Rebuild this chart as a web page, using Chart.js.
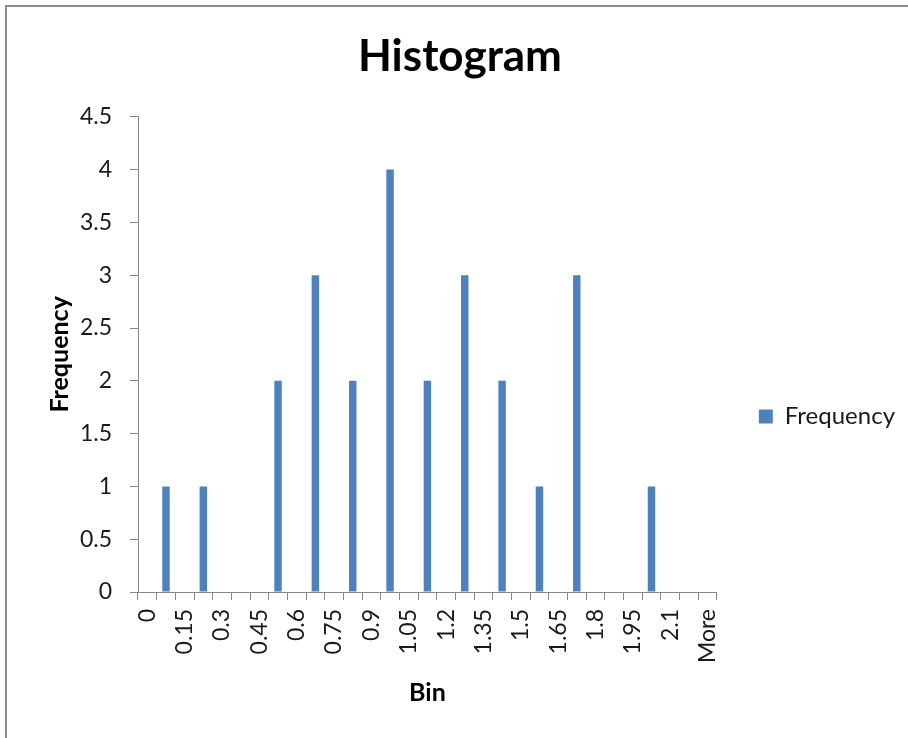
<!DOCTYPE html>
<html>
<head>
<meta charset="utf-8">
<script src="https://cdn.jsdelivr.net/npm/chart.js@4.4.1/dist/chart.umd.min.js"></script>
<style>
  html, body { margin: 0; padding: 0; background: #fff; }
  #wrap { position: absolute; left: 0; top: 0; width: 908px; height: 738px; }
  #frame { position: absolute; left: 5px; top: 5px; width: 910px; height: 740px;
           border: 2px solid #8c8c8c; box-sizing: border-box; pointer-events: none; }
</style>
</head>
<body>
<div id="wrap"><canvas id="grafico" width="908" height="738"></canvas></div>
<div id="frame"></div>
<script>
// bins (every other one is labelled)
const bins = ['0', '0.075', '0.15', '0.225', '0.3', '0.375', '0.45', '0.525', '0.6', '0.675',
  '0.75', '0.825', '0.9', '0.975', '1.05', '1.125', '1.2', '1.275', '1.35', '1.425',
  '1.5', '1.575', '1.65', '1.725', '1.8', '1.875', '1.95', '2.025', '2.1', '2.175', 'More'];
const frequency = [0, 1, 0, 1, 0, 0, 0, 2, 0, 3, 0, 2, 0, 4, 0, 2, 0, 3, 0, 2,
  0, 1, 0, 3, 0, 0, 0, 1, 0, 0, 0];
const yTicks = [0, 0.5, 1, 1.5, 2, 2.5, 3, 3.5, 4, 4.5];

const fuente = 'Lato, "Open Sans", sans-serif';
const gris = '#868686';
const tinta = '#1a1a1a';

const ctx = document.getElementById('grafico').getContext('2d');
new Chart(ctx, {
  type: 'bar',
  data: {
    labels: bins,
    datasets: [{
      label: 'Frequency',
      data: frequency,
      backgroundColor: '#4f81bd',
      borderWidth: 0,
      barPercentage: 0.4,
      categoryPercentage: 1
    }]
  },
  options: {
    responsive: false,
    animation: false,
    layout: { padding: { left: 15, right: 3, top: 0, bottom: 26 } },
    plugins: {
      title: {
        display: true,
        text: 'Histogram',
        color: '#000',
        font: { family: fuente, size: 44, weight: 'bold' },
        padding: { top: 30, bottom: 34 }
      },
      legend: {
        position: 'right',
        maxWidth: 193,
        // empty title only pushes the single entry down to where it sits in the original
        title: { display: true, text: ' ', font: { size: 1 }, padding: { top: 120, bottom: 0 } },
        labels: {
          color: tinta,
          font: { family: fuente, size: 24 },
          boxWidth: 14,
          boxHeight: 14,
          padding: 42
        }
      },
      tooltip: { enabled: false }
    },
    scales: {
      x: {
        grid: { display: true, drawOnChartArea: false, drawTicks: true, tickLength: 8, color: gris, offset: true },
        border: { display: true, color: gris },
        ticks: {
          autoSkip: false,
          maxRotation: 90,
          minRotation: 90,
          padding: 9,
          color: tinta,
          font: { family: fuente, size: 23 },
          callback: function (val, i) { return i % 2 === 0 ? bins[i] : ''; }
        },
        title: {
          display: true,
          text: 'Bin',
          color: '#000',
          font: { family: fuente, size: 25, weight: 'bold' }
        },
        afterFit: function (scale) { scale.height = 120; }
      },
      y: {
        min: 0,
        max: 4.5,
        afterBuildTicks: function (scale) { scale.ticks = yTicks.map(v => ({ value: v })); },
        grid: { display: true, drawOnChartArea: false, drawTicks: true, tickLength: 8, color: gris },
        border: { display: true, color: gris },
        ticks: {
          padding: 18,
          color: tinta,
          font: { family: fuente, size: 23 },
          callback: function (v) { return String(v); }
        },
        title: {
          display: true,
          text: 'Frequency',
          color: '#000',
          font: { family: fuente, size: 25, weight: 'bold' },
          padding: { top: 30, bottom: 4 }
        },
        afterFit: function (scale) { scale.width = 123; }
      }
    }
  }
});
</script>
</body>
</html>
